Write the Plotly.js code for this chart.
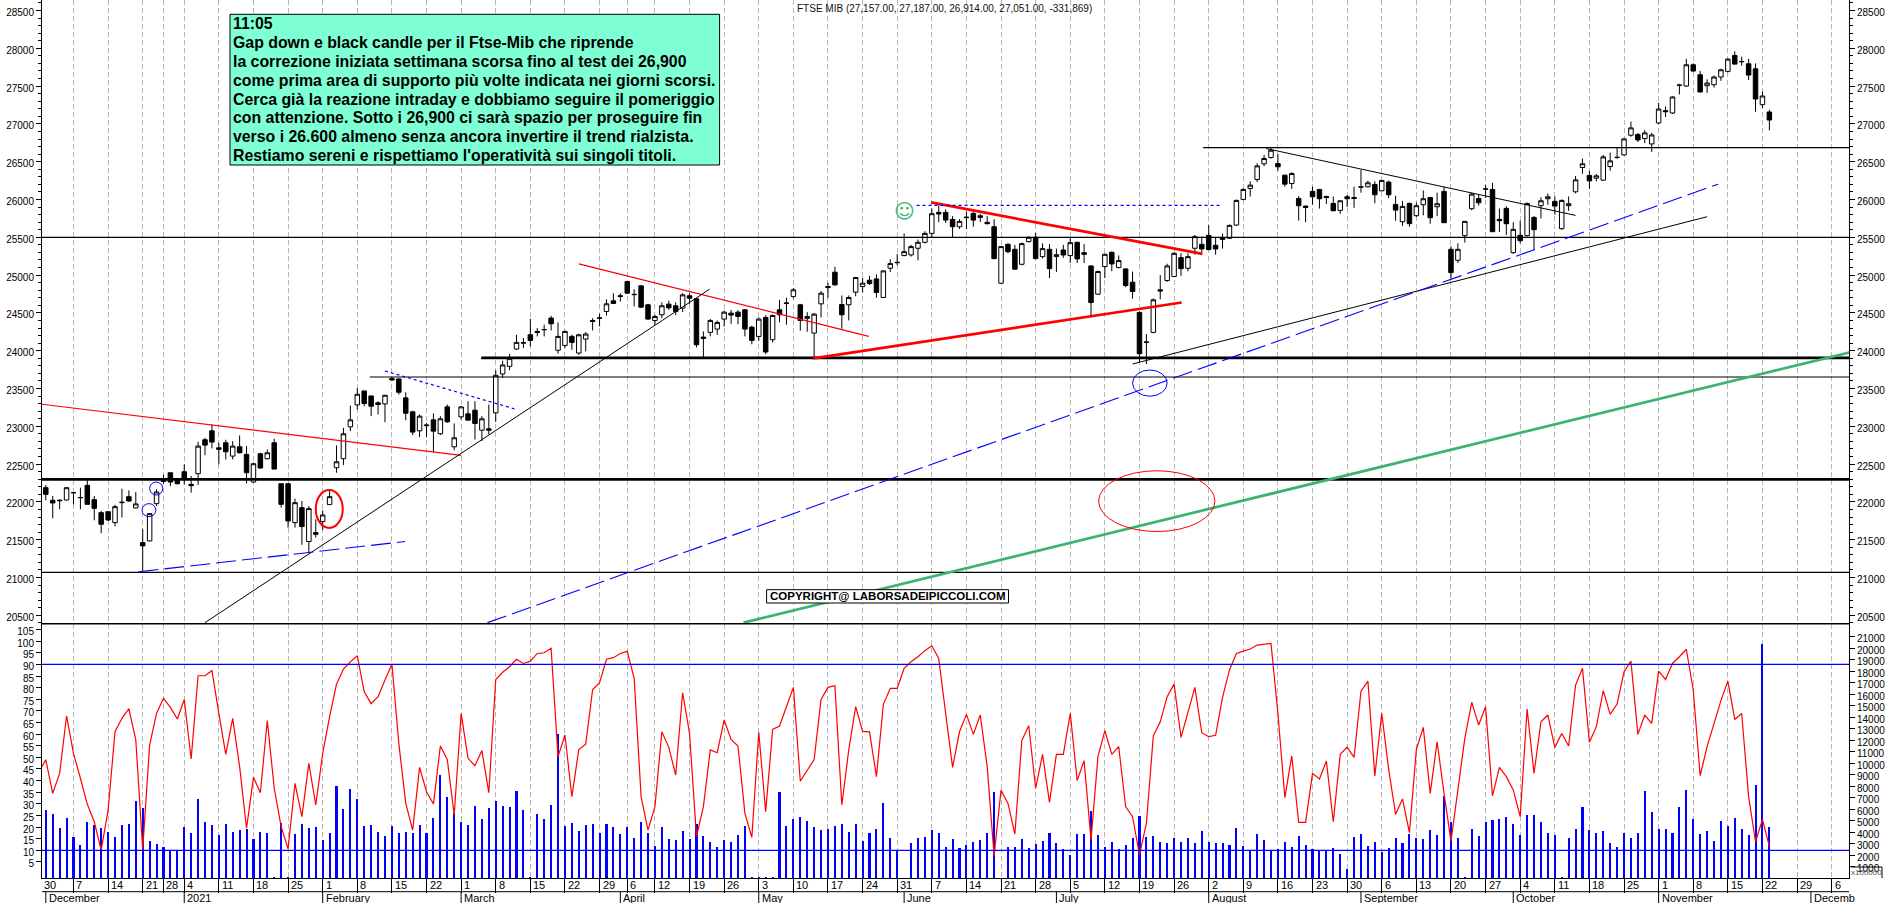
<!DOCTYPE html>
<html><head><meta charset="utf-8">
<script src="https://cdn.plot.ly/plotly-3.0.1.min.js"></script>
<style>html,body{margin:0;padding:0;background:#fff}#c{width:1890px;height:903px}</style>
</head><body><div id="c"></div>
<script>
const opens=[22188,22021,22015,22025,22120,22055,22219,22030,21858,21871,
21726,21990,22069,21920,21462,21484,21977,22270,22386,22298,
22399,22232,22373,22822,22940,22716,22782,22606,22729,22628,
22263,22637,22571,22782,22241,22241,21726,21924,21476,21594,
21740,21964,22452,22571,22993,23283,23468,23402,23310,23296,
23631,23626,23376,23191,22940,23008,23085,22901,23257,22729,
23125,23165,23213,22949,22967,23178,23692,23793,24022,24100,
24211,24255,24277,24431,24005,24070,24189,23969,24154,24400,
24430,24519,24660,24727,24915,24745,24858,24607,24400,24475,
24616,24594,24563,24726,24686,24180,24242,24286,24418,24497,
24510,24541,24312,24189,24440,24145,24541,24625,24717,24607,
24427,24233,24620,24849,25038,24611,24607,24774,24849,24932,
24950,24704,25091,25170,25258,25267,25355,25434,25552,25830,
25830,25737,25640,25760,25816,25785,25698,25640,24893,25407,
25341,25143,25443,25500,25245,25341,25245,25332,25258,25434,
25297,25121,24748,25113,25302,25100,25082,24906,24506,24110,
24242,24805,24928,24981,25231,25091,25355,25407,25526,25394,
25491,25487,25662,26001,26146,26265,26472,26555,26476,26322,
26211,26014,25913,26107,26133,26040,25948,25856,26036,26027,
26163,26168,26199,26115,26230,25935,25706,25948,25786,25931,
26027,25904,26107,25341,25196,25522,25878,26014,26137,26133,
25737,25882,25297,25526,25522,25763,25918,26010,25975,25614,
25918,26102,26423,26318,26282,26256,26436,26555,26590,26850,
26859,26806,26735,27013,27175,27144,27510,27501,27782,27650,
27505,27518,27620,27694,27905,27826,27795,27729,27254,27157];
const highs=[22223,22078,22034,22195,22125,22188,22285,22078,21880,21871,
21960,22175,22153,22131,21638,21850,22166,22360,22386,22310,
22496,22342,22795,22848,23024,22782,22822,22804,22879,22738,
22518,22650,22694,22835,22241,22245,22043,22012,21946,21770,
21889,22144,22747,22980,23274,23508,23468,23402,23332,23415,
23653,23635,23450,23205,23156,23046,23169,23134,23288,23037,
23266,23332,23332,23134,23288,23741,23868,23956,24211,24167,
24422,24299,24343,24462,24374,24268,24211,24224,24246,24431,
24488,24680,24760,24760,24920,24813,24858,24620,24475,24640,
24660,24640,24760,24760,24690,24255,24420,24400,24530,24540,
24535,24550,24330,24440,24470,24480,24673,24700,24830,24620,
24510,24500,24790,24900,25110,24730,24730,24975,24960,24990,
25010,25060,25210,25280,25550,25400,25470,25580,25880,25920,
25870,25780,25740,25840,25840,25810,25780,25740,25380,25420,
25400,25430,25510,25560,25420,25410,25350,25400,25500,25440,
25410,25130,25060,25285,25310,25260,25090,25046,24520,24220,
24690,25000,25150,25300,25290,25290,25530,25510,25660,25500,
25550,25670,26000,26150,26240,26480,26590,26680,26600,26330,
26360,26045,25920,26170,26140,26050,26040,25990,26060,26170,
26390,26250,26240,26260,26250,26050,25980,25960,25960,26120,
26030,26090,26170,25380,25420,25715,26090,26060,26190,26220,
25880,25910,25700,25720,25960,25780,26030,26080,26040,26000,
26040,26310,26540,26380,26340,26590,26620,26690,26815,27030,
26880,26920,26880,27280,27230,27365,27530,27860,27800,27700,
27590,27640,27730,27870,27960,27890,27860,27800,27430,27187];
const lows=[22021,21784,21902,22020,21968,21902,21965,21757,21586,21748,
21678,21793,22000,21915,21089,21480,21946,22240,22210,22230,
22232,22122,22223,22619,22707,22496,22562,22562,22641,22245,
22254,22439,22562,22434,21924,21660,21660,21432,21331,21528,
21630,21964,22386,22487,22936,23222,23266,23134,23156,23055,
23605,23420,23080,22883,22857,22857,22659,22883,23046,22681,
23090,23081,22826,22804,22892,23059,23640,23741,24013,24035,
24057,24189,24189,24268,23960,24035,24013,23947,23991,24268,
24321,24466,24620,24650,24755,24585,24563,24409,24343,24430,
24540,24470,24510,24620,24044,23900,24190,24210,24320,24356,
24350,24190,24085,24130,23955,24110,24375,24343,24690,24265,
24250,23900,24440,24700,24860,24290,24400,24720,24770,24870,
24700,24700,25040,25130,25250,25245,25195,25420,25500,25700,
25690,25500,25610,25610,25640,25700,25670,25210,24885,25290,
25070,25130,25430,25210,25220,24960,25040,25230,25160,25160,
25160,24440,24740,24960,25050,25090,24840,24690,23850,23824,
24230,24680,24910,24975,24990,25050,25270,25300,25330,25270,
25350,25480,25650,25990,26040,26230,26440,26540,26380,26170,
26140,25720,25700,25930,25880,25940,25845,25810,25900,25890,
26090,26160,25950,26110,26020,25720,25650,25640,25770,25790,
25680,25780,25690,24950,25160,25430,25860,25920,26020,25570,
25570,25530,25280,25420,25510,25330,25750,25930,25800,25600,
25850,26080,26340,26140,26240,26250,26380,26540,26580,26830,
26760,26745,26630,26995,27090,27130,27390,27490,27690,27420,
27410,27480,27570,27680,27785,27770,27580,27160,27210,26914];
const closes=[22100,21986,22021,22188,22123,22058,21968,21915,21704,21761,
21937,21995,22012,21973,21418,21845,22131,22280,22263,22241,
22298,22215,22738,22751,22791,22695,22663,22738,22650,22386,
22505,22448,22650,22434,21968,21748,21990,21674,21911,21572,
21827,22069,22531,22901,23085,23424,23301,23266,23288,23411,
23613,23450,23173,22923,23134,23016,22936,23099,23059,22848,
23257,23081,23037,23099,22949,23675,23811,23899,24110,24105,
24136,24242,24280,24356,24189,24255,24110,24211,24220,24387,
24433,24620,24625,24718,24761,24742,24576,24418,24453,24594,
24567,24519,24739,24695,24079,24163,24400,24374,24510,24471,
24453,24286,24136,24418,23983,24466,24475,24630,24805,24400,
24453,24484,24761,24835,24871,24475,24704,24968,24893,24888,
24770,25056,25152,25165,25310,25377,25434,25552,25812,25808,
25728,25640,25711,25765,25728,25763,25680,25218,25377,25310,
25078,25416,25500,25218,25350,25086,25270,25266,25429,25214,
25275,24637,25047,25275,25148,25192,24862,24783,23960,24115,
24673,24790,25121,25288,25086,25244,25509,25346,25337,25346,
25473,25658,25988,26133,26190,26445,26542,26652,26432,26203,
26344,25918,25895,26036,26010,26027,25851,25983,26010,26014,
26168,26221,26063,26252,26063,25860,25909,25680,25918,26010,
25759,25944,25693,25033,25341,25711,26071,25957,26140,25574,
25720,25680,25605,25456,25948,25601,25983,26036,25913,25988,
25944,26260,26472,26247,26313,26564,26511,26558,26801,26947,
26788,26881,26854,27197,27162,27356,27513,27782,27699,27422,
27540,27620,27716,27857,27791,27823,27646,27329,27369,27051];
const volumes=[5916,5568,4321,5220,3596,2871,4843,4611,4321,4002,
3538,4611,4669,6699,6061,3219,2929,2697,2407,2407,
4408,3915,6844,4872,4582,3741,4698,4002,4176,4292,
3422,4002,3915,87,4756,87,3799,4698,4350,4437,
3306,3915,8004,6003,7714,6873,4524,4582,4002,3654,
4524,3886,4002,3915,4640,3886,5220,8932,7076,5626,
4872,4582,6264,5133,6090,6670,6235,6148,7569,5887,
87,5539,5133,6322,12528,4553,4785,4060,4611,4698,
3886,4698,4408,3799,4437,3451,4901,3886,2784,4408,
3393,3277,4089,3364,4669,3683,3103,2668,3335,3103,
3741,4524,87,87,87,87,7453,4495,5133,5307,
4959,4437,4176,4263,4495,4698,3973,4698,3190,3915,
4234,6525,3451,2407,0,3045,3480,3567,4176,3915,
2668,3393,2581,2871,3103,3306,3886,7482,0,2697,
2697,3393,2581,2929,3219,3915,3045,2494,2001,3828,
3799,5800,3741,2668,3103,2523,2842,3480,5365,3538,
3654,3103,3016,3451,3161,3480,3074,4089,3161,3016,
3045,2871,4350,2755,2436,3828,3306,2378,2523,3103,
2697,3625,2871,2494,2407,2407,2610,2059,783,3596,
3828,2813,3103,2291,2581,3480,3045,3857,3480,3422,
4176,3712,7134,4872,3451,87,4263,3654,4843,5017,
5133,5278,4669,3741,5452,5481,4843,3915,3770,87,
3480,4263,6148,4205,3915,4089,3045,2697,3886,3480,
3886,7569,5742,4292,4234,3915,6206,7656,5104,3828,
4060,3219,4930,4524,5220,4263,3770,8091,20329,4466];
/* first value belongs to the session just before the left edge */
const oscillator=[43.8,48.9,34.5,43.1,67.8,51.7,41,29.8,22.3,10.1,27.3,
61,66.8,71,57.5,10.4,55.3,68.9,75.4,71.5,66.5,
74.9,49.3,85.1,85.1,87.3,68.9,51.3,66.8,46,19.5,
41.4,34.8,65.8,36.7,20.2,10.7,38.8,24.5,47.4,29.5,
51.7,67.5,81.5,88,91.1,93.7,78.2,73.1,76.1,83.3,
90.1,56,30.2,18.7,45.7,35.2,29.9,54.9,49.1,25.2,
68.9,49.6,46.4,52.9,34.8,83.5,86.6,89,92.2,90.4,
91.4,94.7,95,96.9,50.3,59.6,33.1,53.4,55.7,79.2,
82.1,92.2,92.9,94.7,95.6,84,33.1,18.7,28.8,61,
54.3,42.4,77.8,60.3,15.9,28.8,53.2,52,66.1,57.7,
54.9,25.9,15.6,60.8,26.6,62,63.5,71.8,80.1,39.7,
44.3,49.1,74.9,80.1,80.8,29.5,53.2,71.8,61.2,61,
41.7,72.8,79.7,79.7,88.3,91.1,93.3,95.9,98,92.6,
68.9,45.7,61,68.5,59.9,68.2,46,7.6,36,30.2,
17,57.2,63.6,36.7,51.3,30.6,51.3,51.3,68.9,40,
48.6,14.4,50.3,61.5,51.3,54.6,28.8,24.5,8,21.6,
59.2,65.3,76.1,81.5,58.6,69.6,80.1,60.6,58.9,59.5,
75.8,87.6,94.7,95.7,96.6,98.3,98.7,99,68.9,32.7,
50.6,22,22,43.1,40.7,48.4,22.3,51.3,54.4,50,
78.5,82.8,42,68.9,44.8,25.5,32.1,17.6,53.4,62.9,
34.5,56.7,34.5,14,36,58.2,73.7,63.9,71.8,33.4,
45.7,41.7,36,24.5,70.8,43.1,65.3,68.2,54.3,60.3,
54.9,81.1,88.3,56.5,63.2,78.7,68.5,72.9,86.8,91.4,
59.9,68.2,64.6,87.1,83.5,90.4,93.3,96.5,79,42.1,
54.6,64.6,74.4,82.8,66.3,68.9,33.1,13.7,23.3,11.6];

const weekIdx=[4,9,14,17,20,25,30,35,40,45,50,55,60,65,70,75,80,84,88,93,98,103,108,113,118,123,128,133,138,143,148,153,158,163,168,173,178,183,188,193,198,203,208,213,218,223,228,233,238,243,248,253,258];
const weekLabels=["7","14","21","28","4","11","18","25","1","8","15","22","1","8","15","22","29","6","12","19","26","3","10","17","24","31","7","14","21","28","5","12","19","26","2","9","16","23","30","6","13","20","27","4","11","18","25","1","8","15","22","29","6"];
const monthIdx=[0,20,40,60,83,103,124,146,168,190,212,233,255];
const monthLabels=["December","2021","February","March","April","May","June","July","August","September","October","November","Decemb"];
const priceTicks=[20500,21000,21500,22000,22500,23000,23500,24000,24500,25000,25500,26000,26500,27000,27500,28000,28500];
const oscTicks=[5,10,15,20,25,30,35,40,45,50,55,60,65,70,75,80,85,90,95,100,105];
const volTicks=[1000,2000,3000,4000,5000,6000,7000,8000,9000,10000,11000,12000,13000,14000,15000,16000,17000,18000,19000,20000,21000];

/* price levels: [value, first session] */
const levelThin=[[26687,167.2],[23652,46.8],[21067,-0.6],[25500,-0.6]];
const levelThick=[[23905,62.9],[22298,-0.6]];
const oscLevels=[90,10];
/* trendlines: [session0, price0, session1, price1] */
const redThin=[[-0.6,23292,60,22615],[77,25148,118.9,24189]];
const redThick=[[127.9,25961,167.1,25280],[110.9,23899,164.1,24638]];
const blackTrend=[[23,20403,95.9,24814],[157,23824,240,25772],[176.3,26674,221,25790]];
const blueDashed=[[13.4,21075,51.9,21476],[63.8,20403,241.6,26203]];
const blueDotted=[[49,23732,67.7,23231],[125.8,25922,169.7,25922]];
const greenTrend=[[100.8,20403,260.6,23978]];
/* circled areas: [session0, session1, price0, price1] */
const blueRings=[[15,16.9,22091,22263],[13.9,15.9,21805,21977],[157,162,23398,23745]];
const redRingHeavy=[[39,42.9,21656,22157]];
const redRingLight=[[152.1,168.9,21608,22412]];

const noteLines=["11:05","Gap down e black candle per il Ftse-Mib che riprende","la correzione iniziata settimana scorsa fino al test dei 26,900","come prima area di supporto più volte indicata nei giorni scorsi.","Cerca già la reazione intraday e dobbiamo seguire il pomeriggio","con attenzione. Sotto i 26,900 ci sarà spazio per proseguire fin","verso i 26.600 almeno senza ancora invertire il trend rialzista.","Restiamo sereni e rispettiamo l'operatività sui singoli titoli."];
const noteLineY=[23.3,42.7,61.7,80.7,99.7,117.7,136.7,155.3];
const header="FTSE MIB (27,157.00, 27,187.00, 26,914.00, 27,051.00, -331,869)";
const copyright="<b>COPYRIGHT@ LABORSADEIPICCOLI.COM</b>";

const F="Liberation Sans, Arial, sans-serif";
const L=42,R=1849,B=878,SPLIT=623.7;
const px=X=>(X-L)/(R-L), py=Y=>1-Y/B;
const sess=opens.map((_,i)=>i);

const traces=[];
traces.push({type:'bar',x:sess,y:volumes,xaxis:'x',yaxis:'y3',width:0.3,marker:{color:'#0000ff',line:{width:0}},hoverinfo:'skip',showlegend:false});
traces.push({type:'scatter',mode:'lines',x:oscillator.map((_,i)=>i-1),y:oscillator,xaxis:'x',yaxis:'y4',line:{color:'#ff0000',width:1.2},hoverinfo:'skip',showlegend:false});
oscLevels.forEach(v=>traces.push({type:'scatter',mode:'lines',x:[-0.6,260.6],y:[v,v],xaxis:'x',yaxis:'y4',line:{color:'#0000ff',width:1.3},hoverinfo:'skip',showlegend:false}));
function seg(s,color,width,dash){traces.push({type:'scatter',mode:'lines',x:[s[0],s[2]],y:[s[1],s[3]],xaxis:'x',yaxis:'y',line:{color,width,dash:dash||'solid'},hoverinfo:'skip',showlegend:false});}
traces.push({type:'candlestick',x:sess,open:opens,high:highs,low:lows,close:closes,xaxis:'x',yaxis:'y',
 increasing:{line:{color:'#000',width:1},fillcolor:'#fff'},decreasing:{line:{color:'#000',width:1},fillcolor:'#000'},whiskerwidth:0,hoverinfo:'skip',showlegend:false});
levelThin.forEach(l=>seg([l[1],l[0],260.6,l[0]],'#000',1.2));
levelThick.forEach(l=>seg([l[1],l[0],260.6,l[0]],'#000',2.6));
redThin.forEach(s=>seg(s,'#ff0000',1.2));
redThick.forEach(s=>seg(s,'#ff0000',2.7));
blackTrend.forEach(s=>seg(s,'#000',1));
blueDashed.forEach(s=>seg(s,'#0000ff',1.1,'20px,6px'));
blueDotted.forEach(s=>seg(s,'#0000ff',1.2,'3px,3px'));
greenTrend.forEach(s=>seg(s,'#3cb371',2.7));
traces.push({type:'scatter',mode:'markers',x:[0],y:[25000],xaxis:'x',yaxis:'y2',marker:{opacity:0},hoverinfo:'skip',showlegend:false});

const shapes=[];
const ring=(r,c,w)=>shapes.push({type:'circle',xref:'x',yref:'y',x0:r[0],x1:r[1],y0:r[2],y1:r[3],line:{color:c,width:w}});
blueRings.forEach(r=>ring(r,'#0000ff',1));
redRingHeavy.forEach(r=>ring(r,'#ff0000',2));
redRingLight.forEach(r=>ring(r,'#ff0000',1));
const pline=(x0,y0,x1,y1,w)=>shapes.push({type:'line',xref:'paper',yref:'paper',x0:px(x0),x1:px(x1),y0:py(y0),y1:py(y1),line:{color:'#000',width:w||1}});
pline(L,SPLIT,R,SPLIT,1.5);
pline(L,891.7,R,891.7,1);
monthIdx.forEach(i=>shapes.push({type:'line',xref:'x',yref:'paper',x0:i,x1:i,y0:py(891.7),y1:py(903),line:{color:'#000',width:1}}));
pline(1851,867,1882,867,1); pline(1882,867,1882,878,1);
shapes.push({type:'rect',xref:'paper',yref:'paper',x0:px(230),x1:px(719.6),y0:py(165),y1:py(14.3),fillcolor:'#7fffd4',line:{color:'#000',width:1}});
shapes.push({type:'rect',xref:'paper',yref:'paper',x0:px(766.6),x1:px(1008.5),y0:py(603),y1:py(589.7),fillcolor:'#fff',line:{color:'#000',width:1}});

const ann=[];
weekIdx.forEach((i,k)=>ann.push({xref:'x',yref:'paper',x:i,y:py(884.5),text:weekLabels[k],showarrow:false,xanchor:'left',yanchor:'middle',xshift:1,font:{family:F,size:11,color:'#000'}}));
ann.push({xref:'x',yref:'paper',x:-0.5,y:py(884.5),text:'30',showarrow:false,xanchor:'left',yanchor:'middle',xshift:0,font:{family:F,size:11,color:'#000'}});
monthIdx.forEach((i,k)=>ann.push({xref:'x',yref:'paper',x:i,y:py(898),text:monthLabels[k],showarrow:false,xanchor:'left',yanchor:'middle',xshift:1,font:{family:F,size:11,color:'#000'}}));
noteLines.forEach((t,k)=>ann.push({xref:'paper',yref:'paper',x:px(231),y:py(noteLineY[k]),xanchor:'left',yanchor:'middle',align:'left',text:'<b>'+t+'</b>',showarrow:false,font:{family:F,size:15.85,color:'#000'}}));
ann.push({xref:'paper',yref:'paper',x:px(944.5),y:py(8.7),xanchor:'center',yanchor:'middle',text:header,showarrow:false,font:{family:F,size:10,color:'#111'}});
ann.push({xref:'paper',yref:'paper',x:px(887.5),y:py(596.3),xanchor:'center',yanchor:'middle',text:copyright,showarrow:false,font:{family:F,size:11.5,color:'#000'}});
ann.push({xref:'paper',yref:'paper',x:px(904.8),y:py(210.5),xanchor:'center',yanchor:'middle',text:'☺',showarrow:false,font:{family:'DejaVu Sans',size:20,color:'#3cb371'}});
ann.push({xref:'paper',yref:'paper',x:px(1866.5),y:py(872.7),xanchor:'center',yanchor:'middle',text:'x100000',showarrow:false,font:{family:F,size:8,color:'#555'}});

const tf={family:F,size:10,color:'#000'};
const minorP={dtick:100,tick0:0,ticks:'outside',ticklen:3,tickcolor:'#000',tickwidth:1,showgrid:false};
const priceRange=[25500+(237.3-SPLIT)/0.0756,25500+237.3/0.0756];
const volRange=[0,22127], oscRange=[-1.9,107.5];
const splitFrac=(B-SPLIT)/B;
const yCommon={tickmode:'array',ticks:'outside',ticklen:5,tickcolor:'#000',tickfont:tf,showgrid:false,zeroline:false,showline:true,linecolor:'#000',linewidth:1,fixedrange:true,tickformat:'d',ticklabelshift:2};
const layout={width:1890,height:903,autosize:false,margin:{l:L,r:1890-R,t:0,b:903-B,pad:0},
 paper_bgcolor:'#fff',plot_bgcolor:'#fff',showlegend:false,boxgap:0.2,boxgroupgap:0.19,bargap:0,hovermode:false,
 xaxis:{range:[(L-45.8)/6.922,(R-45.8)/6.922],type:'linear',anchor:'y3',tickmode:'array',tickvals:weekIdx,ticktext:weekIdx.map(()=>''),ticks:'outside',ticklen:14,tickcolor:'#000',tickwidth:1,showgrid:true,gridcolor:'#b8b8b8',gridwidth:1,griddash:'5px,3px',showline:true,linecolor:'#000',linewidth:1,zeroline:false,rangeslider:{visible:false},fixedrange:true,layer:'below traces'},
 yaxis:{...yCommon,domain:[splitFrac,1],range:priceRange,anchor:'x',side:'left',tickvals:priceTicks,minor:minorP},
 yaxis2:{...yCommon,overlaying:'y',range:priceRange,anchor:'x',side:'right',tickvals:priceTicks,minor:minorP},
 yaxis3:{...yCommon,domain:[0,splitFrac],range:volRange,anchor:'x',side:'right',tickvals:volTicks},
 yaxis4:{...yCommon,overlaying:'y3',range:oscRange,anchor:'x',side:'left',tickvals:oscTicks},
 shapes,annotations:ann};
Plotly.newPlot('c',traces,layout,{displayModeBar:false,staticPlot:true});
</script></body></html>
